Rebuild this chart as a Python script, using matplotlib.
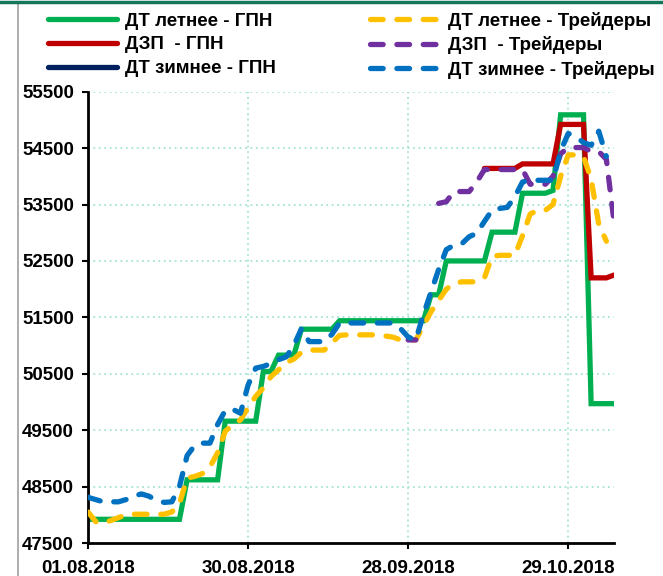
import numpy as np
import pandas as pd
import matplotlib
matplotlib.use('Agg')
import matplotlib.pyplot as plt
from matplotlib.lines import Line2D

plt.rcParams['font.family'] = ['Liberation Sans', 'DejaVu Sans']
plt.rcParams['font.weight'] = 'bold'

nan = np.nan

# trading days, 01.08.2018 .. 70 points
dates = pd.bdate_range('2018-08-01', periods=70)
tick_dates = ['01.08.2018', '30.08.2018', '28.09.2018', '29.10.2018']

# ДТ летнее - ГПН
dt_summer_gpn = ([47920]*13 + [48620]*5 + [49660]*5 + [50540]*2 + [50830]*3 +
                 [51290]*5 + [51440]*12 + [51900]*2 + [52500]*6 + [53010]*4 +
                 [53700]*4 + [53750] + [55090]*4 + [49970]*4)
# ДЗП - ГПН
dzp_gpn = [nan]*52 + [54140]*5 + [54220]*5 + [54920]*4 + [52200]*3 + [52250]
# ДТ зимнее - ГПН (not visible on the chart)
dt_winter_gpn = [nan]*70
# ДТ летнее - Трейдеры
dt_summer_tr = [48050, 47880, 47850, 47900, 47950, 48000, 48010, 48010, 48010, 48010,
                48010, 48050, 48200, 48650, 48680, 48730, 48850, 49100, 49480, 49600,
                49680, 49900, 50100, 50250, 50450, 50570, 50700, 50760, 50880, 50920,
                50920, 50920, 51050, 51180, 51190, 51190, 51190, 51190, 51190, 51170,
                51150, 51100, 51100, 51100, 51350, 51600, 51800, 52000, 52100, 52130,
                52130, 52130, 52200, 52580, 52600, 52600, 52600, 52950, 53330, 53400,
                53400, 53500, 54000, 54380, 54380, 54350, 53950, 53150, 52850, nan]
# ДЗП - Трейдеры
dzp_tr = ([nan]*42 + [51100, 51100] + [nan, nan] +
          [53520, 53550, 53730, 53730, 53730, 53900, 54120, 54120, 54120, 54120,
           54120, 54120, 53860, 53860, 53860, 54000, 54400, 54510, 54510, 54510,
           54440, 54440, 54300, 53200])
# ДТ зимнее - Трейдеры
dt_winter_tr = [48310, 48270, 48230, 48230, 48230, 48270, 48330, 48370, 48330, 48250,
                48220, 48230, 48500, 49050, 49230, 49270, 49270, 49600, 49850, 49870,
                49800, 50300, 50600, 50630, 50680, 50750, 50800, 51000, 51300, 51070,
                51070, 51070, 51200, 51400, 51400, 51400, 51400, 51400, 51400, 51400,
                51400, 51300, 51150, 51100, 51550, 51950, 52350, 52700, 52780, 52800,
                52930, 52990, 53200, 53400, 53430, 53450, 53640, 53900, 53930, 53930,
                53930, 53930, 54450, 54760, 54700, 54600, 54550, 54800, 54350, nan]

names = ['ДТ летнее - ГПН', 'ДЗП  - ГПН', 'ДТ зимнее - ГПН',
         'ДТ летнее - Трейдеры', 'ДЗП  - Трейдеры', 'ДТ зимнее - Трейдеры']
series = [dt_summer_gpn, dzp_gpn, dt_winter_gpn, dt_summer_tr, dzp_tr, dt_winter_tr]
colors = ['#00B050', '#C00000', '#002060', '#FFC000', '#7030A0', '#0070C0']
dashed = [False, False, False, True, True, True]

fig = plt.figure(figsize=(6.63, 5.76), dpi=100)
ax = fig.add_axes([88/663, 1-543/576, (614-88)/663, (543-91.7)/576])

x = np.arange(len(dates))
handles = []
for i in range(len(series)):
    y = np.array(series[i], dtype=float)
    if dashed[i]:
        ln, = ax.plot(x, y, color=colors[i], lw=3.8, dashes=(2.4, 2.6),
                      dash_capstyle='round', solid_capstyle='round', zorder=3)
    else:
        ln, = ax.plot(x, y, color=colors[i], lw=3.8, solid_joinstyle='miter',
                      solid_capstyle='round', zorder=2)
    handles.append(ln)

ax.set_xlim(0, len(dates)-1)
ax.set_ylim(47500, 55500)
yt = np.arange(47500, 55501, 1000)
ax.set_yticks(yt)
ax.set_yticklabels([str(v) for v in yt], fontsize=13.5, fontweight='bold')
lab = [d.strftime('%d.%m.%Y') for d in dates]
xt = [lab.index(t) for t in tick_dates]
ax.set_xticks(xt)
ax.set_xticklabels(tick_dates, fontsize=13.5, fontweight='bold')
ax.tick_params(axis='both', direction='out', length=4, width=1.5, color='black')
ax.tick_params(axis='y', pad=6)
ax.tick_params(axis='x', pad=8)

for v in yt[1:]:
    ax.axhline(v, color='#a6e3d6', lw=1.3, ls=(0, (1, 2)), zorder=1)
for v in xt[1:]:
    ax.axvline(v, color='#a6e3d6', lw=1.3, ls=(0, (1, 2)), zorder=1)

for s in ['top', 'right']:
    ax.spines[s].set_visible(False)
ax.spines['left'].set_linewidth(2)
ax.spines['bottom'].set_linewidth(2)

fig.legend(handles=handles, labels=names, ncol=2, loc='upper left',
           bbox_to_anchor=(40/663, 1-4/576), frameon=False,
           prop={'size': 13.5, 'weight': 'bold'}, handlelength=3.7,
           handletextpad=0.45, columnspacing=5.0, labelspacing=0.36,
           borderaxespad=0)

# chart frame pieces
fig.add_artist(Line2D([18/663, 18/663], [0, 1-4/576], color='#a0a0a0', lw=1.2))
fig.add_artist(Line2D([0, 1], [1-1.5/576, 1-1.5/576], color='#15775a', lw=2.5))

fig.savefig('out.png', dpi=100)
